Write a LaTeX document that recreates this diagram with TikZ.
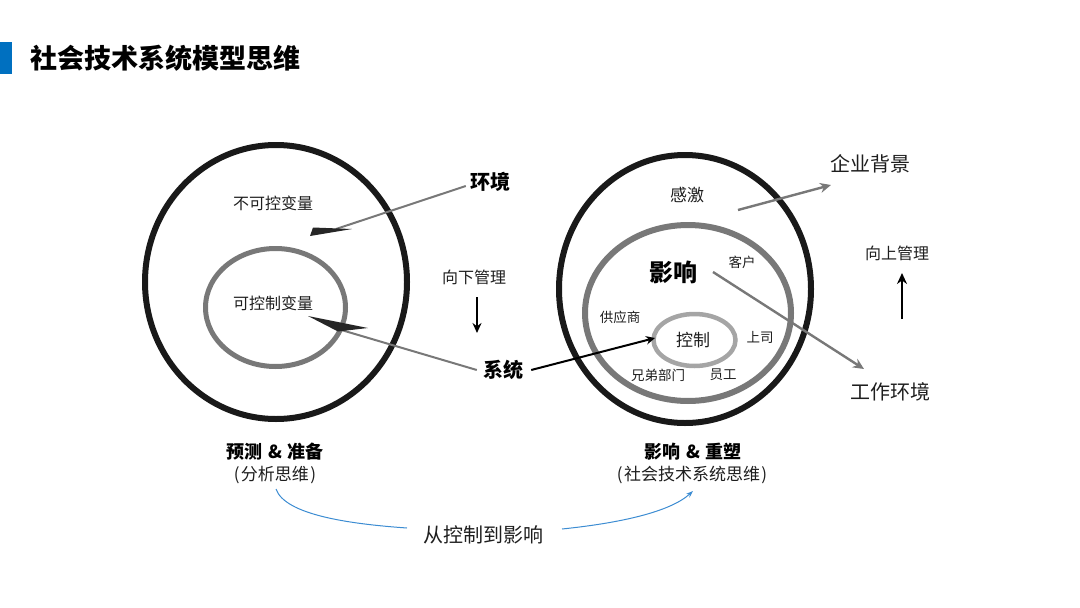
\documentclass[tikz,border=0pt]{standalone}
\usepackage{fontspec}
\setmainfont{Noto Sans CJK SC}
\usetikzlibrary{arrows.meta}
\definecolor{titleblue}{RGB}{0,112,192}
\definecolor{curveblue}{RGB}{60,140,210}
\definecolor{ringgray}{RGB}{120,120,120}
\definecolor{lightring}{RGB}{165,165,165}
\definecolor{darkring}{RGB}{25,25,25}
\definecolor{txt}{RGB}{30,30,30}
\tikzset{
  lbl/.style={inner sep=0pt, text=txt, font=\fontsize{#1}{#1}\selectfont},
  blbl/.style={inner sep=0pt, text=black, font=\fontsize{#1}{#1}\selectfont\bfseries},
  grayarrow/.style={draw=ringgray, line width=2.4pt, -{Stealth[length=11pt,width=10pt]}},
  blackarrow/.style={draw=black, line width=2pt, -{Stealth[length=9pt,width=8.5pt]}},
  pointer/.style={draw=ringgray, line width=2pt},
  wedge/.style={fill=black!85},
  curve/.style={draw=curveblue, line width=1pt}
}
\newcommand{\amp}{\hspace{0.3em}\&\hspace{0.3em}}
\newcommand{\lp}{(\hspace{1.5pt}}
\newcommand{\rp}{\hspace{1.5pt})}
\begin{document}
\begin{tikzpicture}[x=1pt,y=-1pt]
\useasboundingbox (0,0) rectangle (1080,608);
% title
\fill[titleblue] (0,42) rectangle (12,74);
\node[blbl=27, anchor=west] (title) at (30,58) {社会技术系统模型思维};

% left circles
\draw[darkring, line width=6pt] (276,282) ellipse [x radius=131, y radius=137];
\draw[ringgray, line width=5pt] (275.5,307.5) ellipse [x radius=70, y radius=59];
\node[lbl=16] (unctrl) at (273,203) {不可控变量};
\node[lbl=16] (ctrlvar) at (273,303) {可控制变量};
\node[blbl=20] (env) at (490,182) {环境};
\node[blbl=20] (sys) at (503,370) {系统};
\node[lbl=16] (down) at (474,277) {向下管理};
\coordinate (downS) at (477,297);
\coordinate (downE) at (477,333);
\draw[draw=black, line width=2.2pt, -{Stealth[length=10pt,width=9pt]}] (downS) -- (downE);

% pointers with wedges
\coordinate (p1) at (336,229);
\draw[pointer] (env.west) ++(-4,4) -- (p1);
\fill[wedge] (310,236) -- (313,227.5) -- (352,229) -- cycle;
\coordinate (p2) at (338,329);
\draw[pointer] (sys.west) ++(-6,0) -- (p2);
\fill[wedge] (308,316) -- (368,328) -- (338,331.5) -- cycle;

% right circles
\draw[darkring, line width=6pt] (685,289) ellipse [x radius=126, y radius=134];
\draw[ringgray, line width=6pt] (688,313) ellipse [x radius=103, y radius=88];
\draw[lightring, line width=4.5pt] (694.5,340) ellipse [x radius=41, y radius=26];
\node[lbl=17] (gan) at (687,195) {感激};
\node[blbl=24] (infl) at (673,272) {影响};
\node[lbl=13.5] (cust) at (742,262) {客户};
\node[lbl=13.5] (supp) at (620,317) {供应商};
\node[lbl=17] (ctrl) at (693,340) {控制};
\node[lbl=13.5] (boss) at (760,337) {上司};
\node[lbl=13.5] (bro) at (658,375) {兄弟部门};
\node[lbl=13.5] (staff) at (723,375) {员工};
\node[lbl=20] (corp) at (870,164) {企业背景};
\node[lbl=20] (work) at (890,392) {工作环境};
\node[lbl=16] (up) at (897,253) {向上管理};
\coordinate (upS) at (902,319);
\coordinate (upE) at (902,273);
\draw[draw=black, line width=2.4pt, -{Stealth[length=11pt,width=10pt]}] (upS) -- (upE);

\coordinate (g1) at (738,210);
\coordinate (g1e) at (831,185);
\draw[grayarrow] (g1) -- (g1e);
\coordinate (g2) at (713,272);
\coordinate (g2e) at (864,369);
\draw[grayarrow] (g2) -- (g2e);
\coordinate (b1e) at (655,338);
\draw[blackarrow] (sys.east) ++(8,0) -- (b1e);

% bottom labels
\node[blbl=18] (pred) at (275,452) {预测\amp 准备};
\node[lbl=17] (ana) at (275,475) {\lp 分析思维\rp};
\node[blbl=18] (resh) at (693,452) {影响\amp 重塑};
\node[lbl=17] (soc) at (692,475) {\lp 社会技术系统思维\rp};
\node[lbl=20] (mid) at (483,535) {从控制到影响};
\coordinate (c1) at (276,489);
\coordinate (c2) at (407,528);
\coordinate (c3) at (562,529);
\coordinate (c4) at (693,491);
\draw[curve] (c1) .. controls (285,515) and (350,524) .. (c2);
\draw[curve, -{Stealth[length=7pt,width=5pt]}] (c3) .. controls (620,523) and (670,512) .. (c4);
\end{tikzpicture}
\end{document}
